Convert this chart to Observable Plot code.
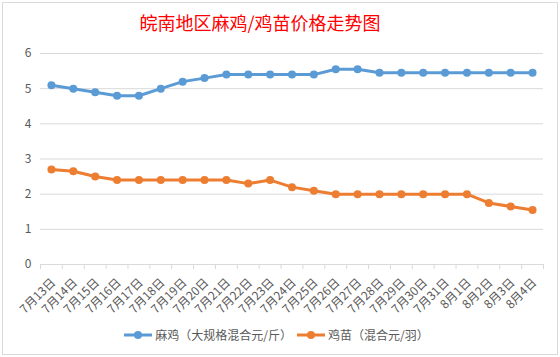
<!DOCTYPE html>
<html><head><meta charset="utf-8">
<script src="https://cdn.jsdelivr.net/npm/d3@7"></script>
<script src="https://cdn.jsdelivr.net/npm/@observablehq/plot@0.6"></script>
<style>
body{margin:0;background:#fff;font-family:"Noto Sans CJK SC","Noto Sans",sans-serif;}
#wrap{position:relative;width:560px;height:357px;overflow:hidden;background:#fff;}
#frame{position:absolute;left:2px;top:2px;width:554px;height:351px;border:1px solid #d9d9d9;box-sizing:content-box;}
#title{position:absolute;left:0;top:13px;width:520px;line-height:18px;text-align:center;color:#ff0000;font-size:18px;white-space:nowrap;}
#chart{position:absolute;left:0;top:44px;}
#legend{position:absolute;left:0;top:326px;width:553px;display:flex;justify-content:center;gap:5px;font-size:12px;color:#595959;line-height:18px;}
.item{display:flex;align-items:center;}
.item svg{margin-right:3px;}
</style>
</head><body>
<div id="wrap">
<div id="frame"></div>
<div id="title">皖南地区麻鸡/鸡苗价格走势图</div>
<div id="chart"></div>
<div id="legend"></div>
</div>
<script>
const dates = ["7月13日","7月14日","7月15日","7月16日","7月17日","7月18日","7月19日","7月20日","7月21日","7月22日","7月23日","7月24日","7月25日","7月26日","7月27日","7月28日","7月29日","7月30日","7月31日","8月1日","8月2日","8月3日","8月4日"];
const majiPrice = [5.1,5.0,4.9,4.8,4.8,5.0,5.2,5.3,5.4,5.4,5.4,5.4,5.4,5.55,5.55,5.45,5.45,5.45,5.45,5.45,5.45,5.45,5.45];
const chickPrice = [2.7,2.65,2.5,2.4,2.4,2.4,2.4,2.4,2.4,2.3,2.4,2.2,2.1,2.0,2.0,2.0,2.0,2.0,2.0,2.0,1.75,1.65,1.55];
const seriesNames = ["麻鸡（大规格混合元/斤）","鸡苗（混合元/羽）"];
const seriesColors = ["#5b9bd5","#ed7d31"];
const yTicks = [0,1,2,3,4,5,6];

const data = dates.flatMap((d,i)=>[
  {date:d, series:seriesNames[0], value:majiPrice[i]},
  {date:d, series:seriesNames[1], value:chickPrice[i]}
]);

const W = 560, H = 276, mL = 40, mR = 17, mT = 9, mB = 56;
const step = (W - mL - mR) / dates.length;

const chart = Plot.plot({
  width: W, height: H,
  marginLeft: mL, marginRight: mR, marginTop: mT, marginBottom: mB,
  style: {fontFamily: '"Noto Sans CJK SC","Noto Sans",sans-serif', fontSize: "12px", color: "#595959", background: "transparent", overflow: "visible"},
  x: {type: "point", domain: dates, padding: 0.5, round: false, label: null},
  y: {domain: [0, 6], ticks: yTicks, label: null},
  color: {domain: seriesNames, range: seriesColors},
  marks: [
    Plot.ruleY(yTicks, {stroke: "#d9d9d9", strokeWidth: 1}),
    Plot.ruleX(dates, {x: d => d, y1: 0, y2: 0, insetBottom: -5, dx: -step/2, stroke: "#d9d9d9"}),
    Plot.ruleX(dates.slice(-1), {x: d => d, y1: 0, y2: 0, insetBottom: -5, dx: step/2, stroke: "#d9d9d9"}),
    Plot.axisY({ticks: yTicks, tickSize: 0, tickPadding: 9, tickFormat: d3.format("d"), label: null, fill: "#595959"}),
    Plot.axisX({tickSize: 0, tickRotate: -45, tickPadding: 16, dx: 2, label: null, fill: "#595959"}),
    Plot.line(data, {x: "date", y: "value", z: "series", stroke: "series", strokeWidth: 3, strokeLinejoin: "round", strokeLinecap: "round"}),
    Plot.dot(data, {x: "date", y: "value", fill: "series", r: 4})
  ]
});
document.getElementById("chart").appendChild(chart);

const legend = document.getElementById("legend");
seriesNames.forEach((name, i) => {
  const item = document.createElement("div");
  item.className = "item";
  item.innerHTML = `<svg width="28" height="10"><line x1="0" y1="5" x2="28" y2="5" stroke="${seriesColors[i]}" stroke-width="3"/><circle cx="14" cy="5" r="4" fill="${seriesColors[i]}"/></svg><span>${name}</span>`;
  legend.appendChild(item);
});
</script>
</body></html>
